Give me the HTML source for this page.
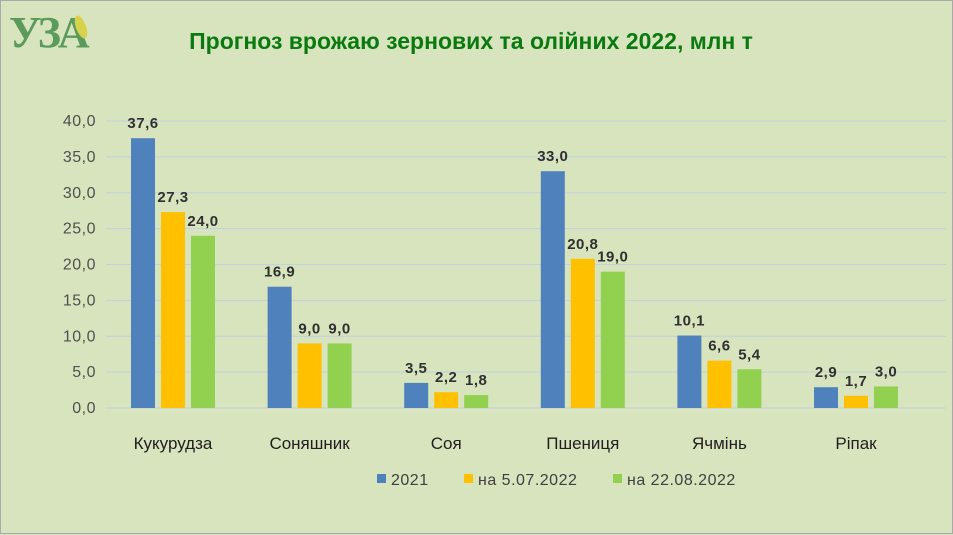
<!DOCTYPE html>
<html><head><meta charset="utf-8"><style>
html,body{margin:0;padding:0}
body{width:953px;height:534px;background:#d7e4bd;font-family:"Liberation Sans",sans-serif;overflow:hidden;position:relative;box-sizing:border-box;border:1px solid #a9a9a9}
</style></head><body>
<svg width="953" height="534" style="position:absolute;left:0;top:0">
<g>
<text x="8" y="46" font-family="Liberation Serif,serif" font-size="44" font-weight="bold" fill="#5a9a5c" letter-spacing="-3">УЗА</text>
<ellipse cx="80" cy="26" rx="5" ry="12" fill="#d8d24a" transform="rotate(-20 80 26)"/>
</g>
<text x="470" y="48" text-anchor="middle" font-size="23" font-weight="bold" fill="#0a7a10">Прогноз врожаю зернових та олійних 2022, млн т</text>
<g id="axis"></g><g id="bars"></g>
<g>
<rect x="376" y="473" width="9" height="9" fill="#4f81bd"/><text x="390" y="484" font-size="16" fill="#404040" letter-spacing="0.5">2021</text>
<rect x="463" y="473" width="9" height="9" fill="#ffc000"/><text x="477" y="484" font-size="16" fill="#404040" letter-spacing="0.5">на 5.07.2022</text>
<rect x="612" y="473" width="9" height="9" fill="#92d050"/><text x="626" y="484" font-size="16" fill="#404040" letter-spacing="0.5">на 22.08.2022</text>
</g>
</svg>
<script>
const categories=["Кукурудза","Соняшник","Соя","Пшениця","Ячмінь","Ріпак"];
const s2021=[37.6,16.9,3.5,33.0,10.1,2.9];
const s0507=[27.3,9.0,2.2,20.8,6.6,1.7];
const s2208=[24.0,9.0,1.8,19.0,5.4,3.0];
const ticks=[0,5,10,15,20,25,30,35,40];
const series=[s2021,s0507,s2208];
const colors=["#4f81bd","#ffc000","#92d050"];
const NS="http://www.w3.org/2000/svg";
const y=v=>407-v*7.175;
const cx=i=>172+i*136.6;
const ax=document.getElementById('axis'),bg=document.getElementById('bars');
function mk(t,a,p,txt){const e=document.createElementNS(NS,t);for(const k in a)e.setAttribute(k,a[k]);if(txt!=null)e.textContent=txt;p.appendChild(e);return e;}
ticks.forEach(t=>{
 const l=mk('line',{x1:105,x2:945,y1:y(t),y2:y(t),stroke:'#c3d0e0','stroke-width':1},ax);
 
 
 const tx=mk('text',{x:95,y:y(t)+5,'text-anchor':'end','font-size':16,fill:'#505050','letter-spacing':'0.5'},ax,t.toFixed(1).replace('.',','));
 
 
});
categories.forEach((c,i)=>{
 const t=mk('text',{x:cx(i),y:448,'text-anchor':'middle','font-size':17,fill:'#202020'},ax,c);
 
 
 series.forEach((s,j)=>{
  const x=cx(i)-42+j*30;
  const r=mk('rect',{x:x,y:y(s[i]),width:24,height:y(0)-y(s[i]),fill:colors[j]},bg);
  
  
  const v=mk('text',{x:x+12,y:y(s[i])-10,'text-anchor':'middle','font-size':15,'font-weight':'bold',fill:'#303030','letter-spacing':'0.5'},bg,s[i].toFixed(1).replace('.',','));
  
  
 });
});
</script>
</body></html>
